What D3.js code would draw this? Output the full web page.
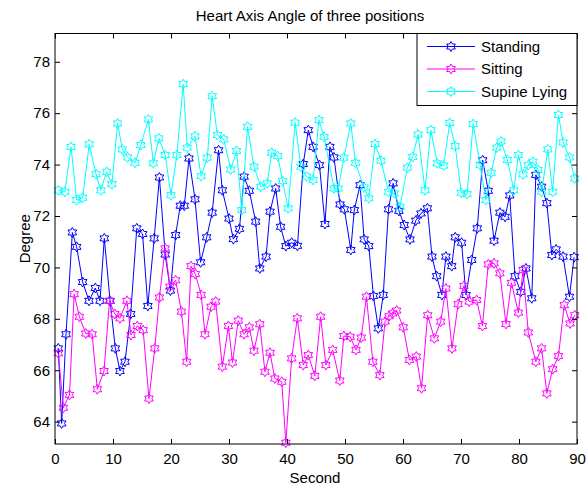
<!DOCTYPE html>
<html>

<head>
    <meta charset="utf-8">
    <title>Heart Axis Angle</title>
    <style>
        body {
            margin: 0;
            background: #fff;
        }

        text {
            font-family: "Liberation Sans", Arial, sans-serif;
            font-size: 15px;
            fill: #000;
        }

        path.series {
            fill: none;
            stroke-width: 1px;
        }

        path.marker {
            fill: none;
            stroke-width: 1px;
        }
    </style>
</head>

<body>
    <script src="https://d3js.org/d3.v7.min.js"></script>
    <script>
        // values (seconds, degree)
        var standingSec = [0.57, 1.15, 1.9, 2.99, 3.73, 4.77, 5.86, 6.95, 7.76, 8.5, 9.5, 10.4, 11.2, 12.07, 13.05, 14.1, 15.1, 16.0, 17.1, 18.0,
            19.0, 19.9, 20.8, 21.6, 22.3, 23.1, 24.14, 25.1, 26.15, 27.1, 28.2, 28.85, 30.0, 30.75, 31.8, 32.6, 33.5, 34.6, 35.3, 36.4,
            37.07, 38.05, 38.9, 39.8, 40.8, 41.8, 42.8, 43.67, 44.5, 45.6, 46.55, 47.4, 48.1, 49.14, 49.9, 51.0, 51.6, 52.6, 53.3, 54.1,
            54.9, 55.75, 56.6, 57.5, 58.3, 59.3, 60.2, 61.2, 62.2, 63.1, 64.2, 65.0, 65.8, 66.7, 67.4, 68.4, 69.0, 70.1, 70.86, 71.84,
            72.8, 73.74, 74.7, 75.7, 76.7, 77.6, 78.4, 79.3, 80.3, 81.2, 82.2, 82.9, 83.9, 84.8, 85.66, 86.4, 87.6, 88.7, 89.5];
        var standingDeg = [66.85, 63.93, 67.4, 71.36, 70.8, 69.43, 68.7, 69.2, 68.7, 71.13, 68.7, 66.85, 65.97, 66.33, 68.19, 71.52, 71.3, 68.5, 71.13, 73.5,
            70.5, 69.1, 71.26, 72.4, 72.4, 74.24, 72.65, 70.2, 71.17, 72.13, 74.56, 73.0, 71.9, 71.1, 71.5, 73.53, 72.98, 71.78, 69.96, 70.42,
            72.17, 73.07, 71.58, 70.83, 70.96, 70.84, 74.02, 75.34, 74.69, 73.98, 71.69, 74.69, 74.28, 72.45, 72.26, 70.68, 72.23, 73.2, 71.09, 70.83,
            68.89, 67.63, 68.93, 72.26, 73.27, 72.2, 71.65, 71.09, 71.82, 72.1, 72.3, 70.42, 69.66, 68.93, 70.42, 70.05, 71.17, 70.96, 68.93, 70.29,
            71.52, 74.17, 72.98, 71.04, 72.13, 71.97, 72.8, 69.66, 69.05, 69.96, 68.8, 73.6, 73.14, 72.5, 70.48, 70.7, 70.42, 68.86, 70.4];

        var sittingSec = [0.57, 1.44, 2.5, 3.3, 4.2, 5.3, 6.4, 7.3, 8.45, 9.4, 10.3, 11.2, 12.4, 13.1, 14.2, 15.2, 16.2, 17.2, 18.0, 19.0,
            19.8, 20.8, 21.8, 22.7, 23.45, 24.2, 25.2, 25.86, 26.9, 27.7, 28.85, 29.9, 30.6, 31.6, 32.6, 33.5, 34.3, 35.3, 36.2, 37.07,
            37.9, 39.1, 39.8, 40.8, 41.78, 42.8, 43.67, 44.8, 45.8, 46.7, 47.87, 49.1, 49.8, 50.9, 51.9, 52.8, 53.7, 54.8, 56.0, 56.9,
            57.6, 58.2, 58.9, 60.05, 61.1, 62.3, 63.2, 64.25, 65.4, 66.5, 67.4, 68.45, 69.5, 70.5, 71.4, 72.7, 73.7, 74.7, 75.7, 76.7,
            77.76, 78.7, 79.9, 80.7, 81.6, 82.9, 83.9, 84.8, 85.8, 86.8, 87.8, 88.8, 89.6];
        var sittingDeg = [66.66, 64.54, 65.04, 68.96, 68.08, 67.43, 67.4, 65.26, 65.97, 68.7, 68.19, 68.02, 68.7, 67.37, 67.72, 67.56, 64.9, 66.85, 68.83, 70.74,
            69.25, 69.5, 68.28, 66.33, 70.05, 69.74, 68.93, 67.4, 68.47, 68.67, 66.14, 67.72, 66.3, 67.93, 67.4, 67.67, 66.76, 67.79, 65.94, 66.68,
            65.68, 65.55, 63.18, 66.46, 68.02, 66.2, 66.59, 65.78, 68.08, 66.2, 66.79, 65.6, 67.33, 67.3, 66.79, 67.27, 68.86, 66.33, 65.81, 67.89,
            68.1, 68.21, 68.32, 67.67, 66.4, 66.53, 65.3, 68.14, 67.24, 67.89, 69.18, 66.85, 68.57, 69.28, 68.67, 68.73, 67.72, 70.12, 70.16, 69.77,
            67.8, 69.4, 68.24, 69.9, 67.47, 66.33, 66.85, 65.1, 66.04, 66.55, 68.53, 67.82, 68.14];

        var supineSec = [0.57, 1.7, 2.76, 3.73, 4.77, 5.9, 7.07, 7.9, 8.9, 9.8, 10.8, 11.6, 12.5, 13.8, 14.8, 16.1, 16.95, 17.9, 19.0, 20.0,
            21.0, 22.1, 22.8, 24.14, 25.2, 26.26, 27.1, 28.0, 29.1, 30.3, 31.3, 32.2, 33.2, 34.3, 35.5, 36.6, 37.35, 38.4, 39.25, 40.2,
            41.4, 42.4, 43.4, 44.5, 45.5, 46.4, 48.1, 48.85, 49.8, 51.0, 51.8, 53.3, 54.1, 55.2, 56.2, 57.5, 58.5, 59.5, 60.75, 61.67,
            62.6, 63.8, 64.8, 65.9, 67.0, 68.05, 69.0, 70.05, 71.05, 72.1, 73.3, 74.3, 75.2, 76.15, 76.9, 78.0, 79.1, 79.9, 80.7, 81.6,
            82.4, 83.3, 83.9, 84.97, 85.8, 86.8, 87.6, 88.7, 89.6];
        var supineDeg = [73.0, 72.94, 74.69, 72.62, 72.71, 74.79, 73.63, 73.0, 73.72, 73.24, 75.6, 74.59, 74.28, 74.07, 74.76, 75.76, 74.05, 75.02, 74.37, 72.81,
            74.37, 77.13, 74.66, 75.1, 73.55, 74.27, 76.66, 75.15, 74.98, 73.81, 74.53, 72.23, 75.47, 73.92, 73.14, 73.27, 74.46, 74.33, 73.36, 72.3,
            75.63, 73.92, 73.53, 73.4, 75.73, 75.08, 73.07, 73.07, 74.27, 75.6, 74.07, 73.11, 72.69, 74.8, 74.15, 72.94, 72.88, 72.36, 73.88, 74.3,
            75.17, 73.0, 75.34, 74.05, 73.96, 75.62, 74.72, 72.9, 72.85, 75.58, 73.98, 72.62, 73.68, 74.66, 74.9, 74.18, 73.0, 74.37, 73.62, 73.98,
            74.11, 73.79, 72.94, 74.59, 72.94, 75.93, 74.86, 74.28, 73.46];

        var seriesNames = ["Standing", "Sitting", "Supine Lying"];
        var seriesColors = ["#0000ff", "#ff00ff", "#00ffff"];
        var xTicks = [0, 10, 20, 30, 40, 50, 60, 70, 80, 90];
        var yTicks = [64, 66, 68, 70, 72, 74, 76, 78];

        var width = 586,
            height = 486;
        var margin = {
            left: 55,
            right: 9,
            top: 33.5,
            bottom: 42
        };

        var series = [
            { name: seriesNames[0], color: seriesColors[0], sec: standingSec, deg: standingDeg },
            { name: seriesNames[1], color: seriesColors[1], sec: sittingSec, deg: sittingDeg },
            { name: seriesNames[2], color: seriesColors[2], sec: supineSec, deg: supineDeg }
        ];
        series.forEach(function(s) {
            s.points = s.sec.map(function(t, i) {
                return { t: t, v: s.deg[i] };
            });
        });

        var x = d3.scaleLinear()
            .domain([0, 90])
            .range([margin.left, width - margin.right]);

        var y = d3.scaleLinear()
            .domain([63.13, 79.1])
            .range([height - margin.bottom, margin.top]);

        var svg = d3.select("body").append("svg")
            .attr("width", width)
            .attr("height", height);

        // six pointed star, like the matlab 'h' marker
        function hexagram(r) {
            var pts = [];
            for (var k = 0; k < 12; k++) {
                var a = -Math.PI / 2 + k * Math.PI / 6;
                var rr = k % 2 === 0 ? r : r / Math.sqrt(3);
                pts.push([rr * Math.cos(a), rr * Math.sin(a)]);
            }
            return "M" + pts.map(function(p) {
                return p[0].toFixed(2) + "," + p[1].toFixed(2);
            }).join("L") + "Z";
        }
        var markerPath = hexagram(5);

        var line = d3.line()
            .x(function(d) { return x(d.t); })
            .y(function(d) { return y(d.v); });

        var plot = svg.append("g");

        series.forEach(function(s) {
            var g = plot.append("g");
            g.append("path")
                .attr("class", "series")
                .attr("stroke", s.color)
                .attr("d", line(s.points));
            g.selectAll("path.marker")
                .data(s.points)
                .enter()
                .append("path")
                .attr("class", "marker")
                .attr("stroke", s.color)
                .attr("d", markerPath)
                .attr("transform", function(d) {
                    return "translate(" + x(d.t) + "," + y(d.v) + ")";
                });
        });

        // axes, ticks pointing in, box all round
        var x0 = x.range()[0],
            x1 = x.range()[1],
            y0 = y.range()[0],
            y1 = y.range()[1];

        svg.append("g")
            .attr("transform", "translate(0," + y0 + ")")
            .call(d3.axisBottom(x).tickValues(xTicks).tickSizeInner(-5).tickSizeOuter(0).tickPadding(9))
            .call(function(g) {
                g.select(".domain").remove();
                g.selectAll("text").attr("font-size", null).attr("font-family", null);
            });

        svg.append("g")
            .attr("transform", "translate(0," + y1 + ")")
            .call(d3.axisTop(x).tickValues(xTicks).tickSizeInner(-5).tickSizeOuter(0).tickFormat(""))
            .call(function(g) { g.select(".domain").remove(); });

        svg.append("g")
            .attr("transform", "translate(" + x0 + ",0)")
            .call(d3.axisLeft(y).tickValues(yTicks).tickSizeInner(-5).tickSizeOuter(0).tickPadding(5))
            .call(function(g) {
                g.select(".domain").remove();
                g.selectAll("text").attr("font-size", null).attr("font-family", null);
            });

        svg.append("g")
            .attr("transform", "translate(" + x1 + ",0)")
            .call(d3.axisRight(y).tickValues(yTicks).tickSizeInner(-5).tickSizeOuter(0).tickFormat(""))
            .call(function(g) { g.select(".domain").remove(); });

        svg.append("rect")
            .attr("x", x0)
            .attr("y", y1)
            .attr("width", x1 - x0)
            .attr("height", y0 - y1)
            .attr("fill", "none")
            .attr("stroke", "#000")
            .attr("stroke-width", 1);

        // labels
        svg.append("text")
            .attr("x", 310)
            .attr("y", 21)
            .attr("text-anchor", "middle")
            .text("Heart Axis Angle of three positions");

        svg.append("text")
            .attr("x", 315)
            .attr("y", 483)
            .attr("text-anchor", "middle")
            .text("Second");

        svg.append("text")
            .attr("transform", "translate(30," + ((y0 + y1) / 2) + ") rotate(-90)")
            .attr("text-anchor", "middle")
            .text("Degree");

        // legend
        var legend = svg.append("g")
            .attr("transform", "translate(417," + y1 + ")");

        legend.append("rect")
            .attr("width", x1 - 417)
            .attr("height", 72)
            .attr("fill", "#fff")
            .attr("stroke", "#000")
            .attr("stroke-width", 1);

        var item = legend.selectAll("g.item")
            .data(series)
            .enter().append("g")
            .attr("class", "item")
            .attr("transform", function(d, i) {
                return "translate(0," + (13 + i * 22.5) + ")";
            });

        item.append("line")
            .attr("x1", 10)
            .attr("x2", 58)
            .attr("stroke", function(d) { return d.color; })
            .attr("stroke-width", 1);

        item.append("path")
            .attr("class", "marker")
            .attr("d", markerPath)
            .attr("stroke", function(d) { return d.color; })
            .attr("transform", "translate(34,0)");

        item.append("text")
            .attr("x", 64)
            .attr("dy", "0.35em")
            .text(function(d) { return d.name; });
    </script>
</body>

</html>
